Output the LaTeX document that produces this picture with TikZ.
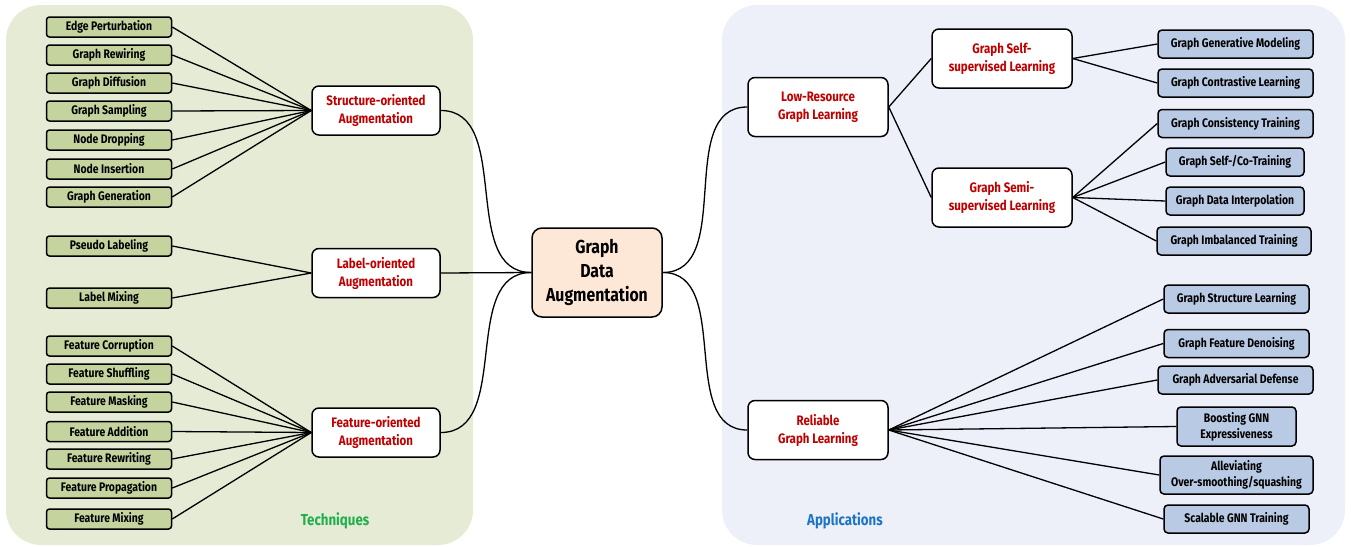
\documentclass[tikz,border=0pt]{standalone}
\usepackage{fontspec}
\setmainfont{Fira Sans}[FakeStretch=0.84]
\usetikzlibrary{calc}

\definecolor{techbg}{HTML}{E6EBD6}
\definecolor{appbg}{HTML}{EDF0F9}
\definecolor{techfill}{HTML}{C5D49F}
\definecolor{appfill}{HTML}{B9CAE4}
\definecolor{rootfill}{HTML}{FDE8D8}
\definecolor{branchred}{HTML}{C00000}
\definecolor{techgreen}{HTML}{1FAF4B}
\definecolor{appblue}{HTML}{1C74C4}

\begin{document}
\begin{tikzpicture}[
    x=1pt, y=-1pt,
    root/.style={draw, line width=1.5pt, rounded corners=10pt, fill=rootfill, minimum width=130pt, minimum height=89pt, align=center, font=\bfseries\fontsize{18.8}{24}\selectfont},
    branch/.style={draw, line width=1.5pt, rounded corners=7pt, fill=white, text=branchred, minimum width=128pt, minimum height=49pt, align=center, font=\bfseries\fontsize{13.7}{18}\selectfont},
    subbranch/.style={branch, minimum width=140pt, minimum height=59pt},
    techleaf/.style={draw, line width=1.5pt, rounded corners=3pt, fill=techfill, minimum width=125pt, minimum height=20pt, inner sep=0pt, font=\bfseries\fontsize{12.4}{14}\selectfont},
    appleaf/.style={draw, line width=1.5pt, rounded corners=4pt, fill=appfill, minimum height=28pt, inner sep=0pt, align=center, font=\bfseries\fontsize{12.4}{16}\selectfont},
    link/.style={line width=1.3pt},
    paneltitle/.style={font=\bfseries\fontsize{15.8}{18}\selectfont}
]
\useasboundingbox (0,0) rectangle (1351,546);

% Panels
\fill[techbg, rounded corners=35pt] (6,5) rectangle (473,545);
\fill[appbg, rounded corners=35pt] (722,5) rectangle (1345,545);
\node[paneltitle, text=techgreen] (tech_title) at (335,521) {Techniques};
\node[paneltitle, text=appblue] (app_title) at (845,521) {Applications};

% Root
\node[root] (root) at (597,272.5) {Graph\\Data\\Augmentation};

% Techniques
\node[branch] (struct) at (376,110.5) {Structure-oriented\\Augmentation};
\node[branch] (label_aug) at (376,273) {Label-oriented\\Augmentation};
\node[branch] (feat) at (376,432.5) {Feature-oriented\\Augmentation};

\node[techleaf] (t_edge) at (109,27) {Edge Perturbation};
\node[techleaf] (t_rewire) at (109,55) {Graph Rewiring};
\node[techleaf] (t_diffuse) at (109,83) {Graph Diffusion};
\node[techleaf] (t_sample) at (109,111) {Graph Sampling};
\node[techleaf] (t_drop) at (109,140) {Node Dropping};
\node[techleaf] (t_insert) at (109,169) {Node Insertion};
\node[techleaf] (t_gen) at (109,197) {Graph Generation};

\node[techleaf] (t_pseudo) at (109,246) {Pseudo Labeling};
\node[techleaf] (t_labmix) at (109,298) {Label Mixing};

\node[techleaf] (t_corrupt) at (109,346) {Feature Corruption};
\node[techleaf] (t_shuffle) at (109,374) {Feature Shuffling};
\node[techleaf] (t_mask) at (109,402) {Feature Masking};
\node[techleaf] (t_add) at (109,431.5) {Feature Addition};
\node[techleaf] (t_rewrite) at (109,459) {Feature Rewriting};
\node[techleaf] (t_prop) at (109,488) {Feature Propagation};
\node[techleaf] (t_featmix) at (109,519) {Feature Mixing};

\draw[link] (t_edge.east) -- (struct.west);
\draw[link] (t_rewire.east) -- (struct.west);
\draw[link] (t_diffuse.east) -- (struct.west);
\draw[link] (t_sample.east) -- (struct.west);
\draw[link] (t_drop.east) -- (struct.west);
\draw[link] (t_insert.east) -- (struct.west);
\draw[link] (t_gen.east) -- (struct.west);

\draw[link] (t_pseudo.east) -- (label_aug.west);
\draw[link] (t_labmix.east) -- (label_aug.west);

\draw[link] (t_corrupt.east) -- (feat.west);
\draw[link] (t_shuffle.east) -- (feat.west);
\draw[link] (t_mask.east) -- (feat.west);
\draw[link] (t_add.east) -- (feat.west);
\draw[link] (t_rewrite.east) -- (feat.west);
\draw[link] (t_prop.east) -- (feat.west);
\draw[link] (t_featmix.east) -- (feat.west);

\draw[link] (struct.east) to[out=0, in=180] (root.west);
\draw[link] (label_aug.east) -- (root.west);
\draw[link] (feat.east) to[out=0, in=180] (root.west);

% Applications
\node[subbranch] (lowres) at (818,107) {Low-Resource\\Graph Learning};
\node[subbranch] (reliable) at (818,430) {Reliable\\Graph Learning};
\node[subbranch] (selfsup) at (1002,58.5) {Graph Self-\\supervised Learning};
\node[subbranch] (semisup) at (1002,197.5) {Graph Semi-\\supervised Learning};

\node[appleaf, minimum width=155pt] (a_gen) at (1235.5,44) {Graph Generative Modeling};
\node[appleaf, minimum width=155pt] (a_contrast) at (1235.5,83) {Graph Contrastive Learning};
\node[appleaf, minimum width=155pt] (a_consist) at (1235.5,123.5) {Graph Consistency Training};
\node[appleaf, minimum width=138pt] (a_selfco) at (1235,162) {Graph Self-/Co-Training};
\node[appleaf, minimum width=138pt] (a_interp) at (1235,201) {Graph Data Interpolation};
\node[appleaf, minimum width=154pt] (a_imbal) at (1234,241) {Graph Imbalanced Training};

\node[appleaf, minimum width=145pt] (a_struct) at (1236.5,299) {Graph Structure Learning};
\node[appleaf, minimum width=145pt] (a_denoise) at (1236.5,343.5) {Graph Feature Denoising};
\node[appleaf, minimum width=155pt] (a_adv) at (1235.5,380) {Graph Adversarial Defense};
\node[appleaf, minimum width=119pt, minimum height=39pt] (a_boost) at (1236.5,426.5) {Boosting GNN\\Expressiveness};
\node[appleaf, minimum width=153pt, minimum height=38pt] (a_smooth) at (1236.5,475) {Alleviating\\Over-smoothing/squashing};
\node[appleaf, minimum width=145pt] (a_scale) at (1236.5,519) {Scalable GNN Training};

\draw[link] (root.east) to[out=0, in=180] (lowres.west);
\draw[link] (root.east) to[out=0, in=180] (reliable.west);

\draw[link] (lowres.east) -- (selfsup.west);
\draw[link] (lowres.east) -- (semisup.west);

\draw[link] (selfsup.east) -- (a_gen.west);
\draw[link] (selfsup.east) -- (a_contrast.west);

\draw[link] (semisup.east) -- (a_consist.west);
\draw[link] (semisup.east) -- (a_selfco.west);
\draw[link] (semisup.east) -- (a_interp.west);
\draw[link] (semisup.east) -- (a_imbal.west);

\draw[link] (reliable.east) -- (a_struct.west);
\draw[link] (reliable.east) -- (a_denoise.west);
\draw[link] (reliable.east) -- (a_adv.west);
\draw[link] (reliable.east) -- (a_boost.west);
\draw[link] (reliable.east) -- (a_smooth.west);
\draw[link] (reliable.east) -- (a_scale.west);

\end{tikzpicture}
\end{document}
